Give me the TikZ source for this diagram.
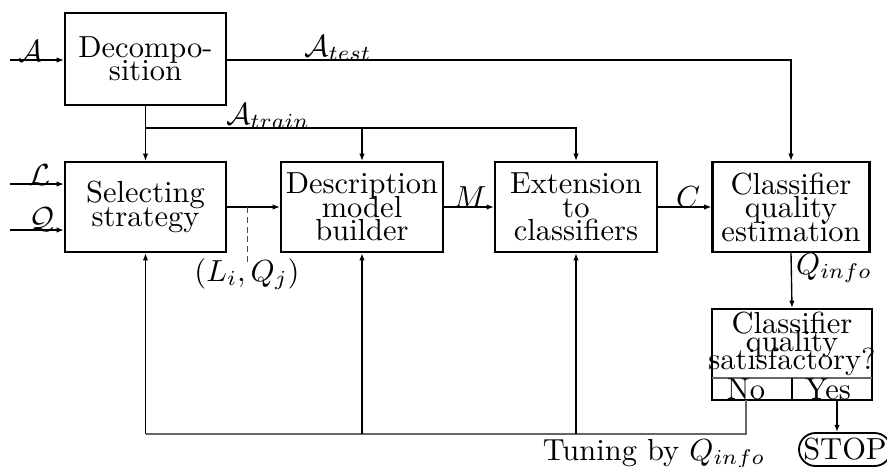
\documentclass[tikz,border=0pt]{standalone}
\usetikzlibrary{arrows.meta,shapes.misc}
\newdimen\pxu \pxu=0.328pt
% let stacked lines overlap instead of being pushed apart
\protected\def\tightlines{\lineskiplimit=-20pt\relax\lineskip=0pt\relax}
\tikzset{
  blk/.style={draw,line width=0.7pt,inner sep=0pt,align=center,
    font=\fontsize{10}{7.7}\selectfont\tightlines},
  arr/.style={-{Latex[length=2.4pt,width=1.8pt]},line width=0.45pt},
  feed/.style={-{Latex[length=2.4pt,width=1.8pt]},line width=0.6pt},
  ret/.style={line width=0.4pt,draw=black!60},
  lbl/.style={inner sep=0pt,font=\fontsize{10}{12}\selectfont},
}
\begin{document}
\begin{tikzpicture}[x=0.328pt,y=-0.328pt]
\useasboundingbox (0,0) rectangle (887,466);
% processing blocks
\node[blk,minimum width=161\pxu,minimum height=92\pxu] (dec) at (145.5,59) {Decompo-\\sition};
\node[blk,minimum width=161\pxu,minimum height=90\pxu] (sel) at (145.5,207) {Selecting\\strategy};
\node[blk,minimum width=162\pxu,minimum height=90\pxu] (desc) at (362,207) {Description\\model\\builder};
\node[blk,minimum width=162\pxu,minimum height=90\pxu] (ext) at (576,207) {Extension\\to\\classifiers};
\node[blk,minimum width=157\pxu,minimum height=90\pxu] (est) at (791,207) {Classifier\\quality\\estimation};
% decision block
\node[draw,line width=0.7pt,inner sep=0pt,minimum width=160\pxu,minimum height=91\pxu] (sat) at (792,354.5) {};
\node[inner sep=0pt,align=center,font=\fontsize{10}{5.8}\selectfont\tightlines] (satt) at (792,344) {Classifier\\quality\\satisfactory?};
\coordinate (divl) at (712,378);
\coordinate (divr) at (872,378);
\coordinate (divm) at (792,378);
\draw[line width=0.4pt,draw=black!60] (divl) -- (divr);
\draw[line width=0.45pt] (divm) -- (divm |- sat.south);
\node[lbl] (no) at (746,389) {No};
\node[lbl] (yes) at (828,389) {Yes};
\node[draw,line width=0.6pt,rounded rectangle,inner sep=0pt,minimum width=86\pxu,minimum height=33\pxu] (stop) at (845,449.5) {STOP};
% inputs
\coordinate (ain) at (10,60);
\coordinate (lin) at (10,184);
\coordinate (qin) at (10,230);
\draw[arr] (ain) -- (ain -| dec.west);
\draw[arr] (lin) -- (lin -| sel.west);
\draw[arr] (qin) -- (qin -| sel.west);
\node[lbl] (la) at (31,51) {$\mathcal{A}$};
\node[lbl] (ll) at (40,175) {$\mathcal{L}$};
\node[lbl] (lq) at (42,220) {$\mathcal{Q}$};
% test and training sets
\coordinate (te) at (226,60);
\draw[arr] (te) -| (est.north);
\node[lbl] (ltest) at (338,48) {$\mathcal{A}_{test}$};
\coordinate (tr) at (145.5,128);
\draw[arr] (dec.south) -- (sel.north);
\draw[arr] (tr) -| (desc.north);
\draw[arr] (tr) -| (ext.north);
\node[lbl] (ltrain) at (268,116) {$\mathcal{A}_{train}$};
% main chain
\draw[arr] (sel.east) -- (desc.west);
\coordinate (dtop) at (247,207);
\coordinate (dbot) at (247,262);
\draw[line width=0.3pt,draw=black!70,dash pattern=on 2pt off 1.2pt] (dtop) -- (dbot);
\node[lbl] (lij) at (247,274) {$(L_i,Q_j)$};
\draw[arr] (desc.east) -- (ext.west);
\node[lbl] (lm) at (470,197) {$M$};
\draw[arr] (ext.east) -- (est.west);
\node[lbl] (lc) at (688,197) {$C$};
\draw[arr] (est.south) -- (sat.north);
\node[lbl] (lqi) at (834,268) {$Q_{info}$};
% exit
\coordinate (ys) at (837,400);
\draw[arr] (ys) -- (ys |- stop.north);
% tuning loop
\coordinate (ns) at (746,400);
\coordinate (nb) at (746,434);
\coordinate (fb1) at (145.5,434);
\coordinate (fb2) at (362,434);
\coordinate (fb3) at (576,434);
\draw[ret] (ns) -- (nb) -- (fb1);
\draw[feed] (fb1) -- (sel.south);
\draw[feed] (fb2) -- (desc.south);
\draw[feed] (fb3) -- (ext.south);
\node[lbl] (ltun) at (654,454) {Tuning by $Q_{info}$};
\end{tikzpicture}
\end{document}
